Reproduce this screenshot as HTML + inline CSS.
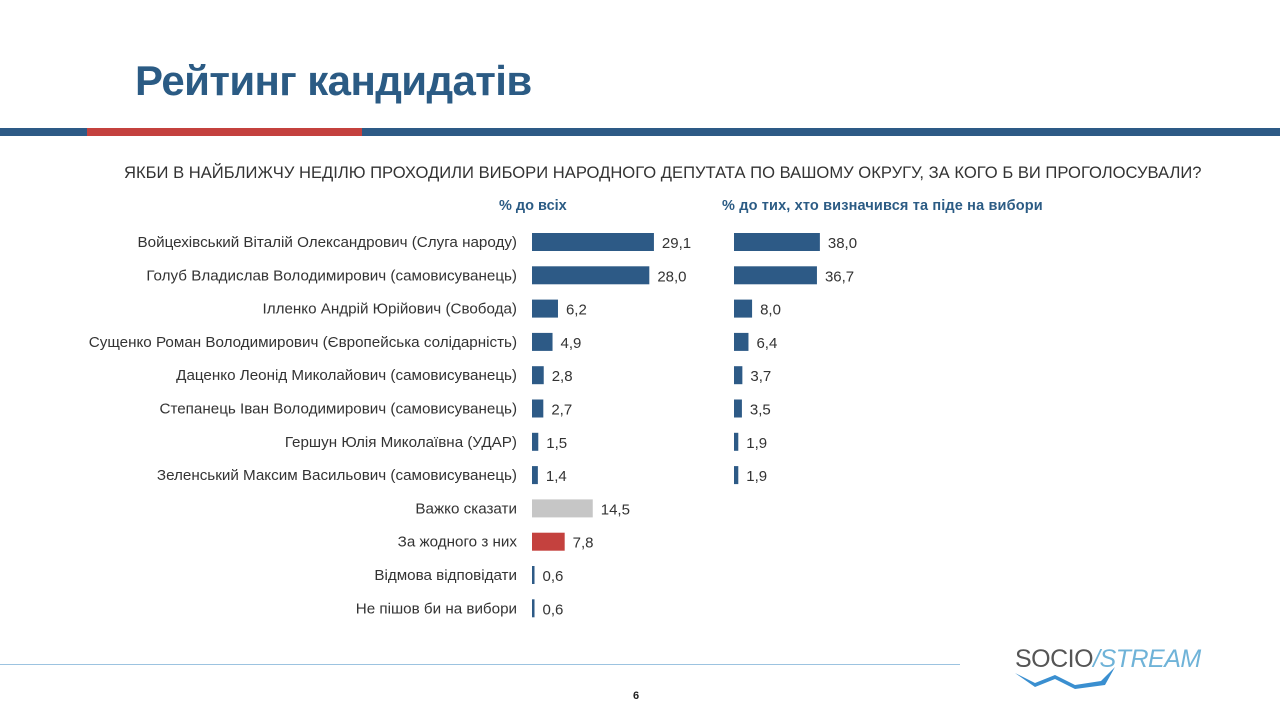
<!DOCTYPE html>
<html><head><meta charset="utf-8"><style>
body{margin:0;width:1280px;height:716px;background:#fff;position:relative;overflow:hidden;font-family:"Liberation Sans","DejaVu Sans",sans-serif}
.abs{position:absolute}
</style></head><body>
<div class="abs" style="left:135px;top:57px;font-size:42px;font-weight:bold;color:#2b5b84;letter-spacing:-0.6px">Рейтинг кандидатів</div>
<div class="abs" style="left:0;top:128px;width:1280px;height:8px;background:#2d5a86"></div>
<div class="abs" style="left:87px;top:128px;width:275px;height:8px;background:#c4413e"></div>
<div class="abs" style="left:124px;width:1080px;white-space:nowrap;top:163px;font-size:16.6px;color:#333">ЯКБИ В НАЙБЛИЖЧУ НЕДІЛЮ ПРОХОДИЛИ ВИБОРИ НАРОДНОГО ДЕПУТАТА ПО ВАШОМУ ОКРУГУ, ЗА КОГО Б ВИ ПРОГОЛОСУВАЛИ?</div>
<div class="abs" style="left:499px;top:198px;font-size:14.5px;font-weight:bold;color:#2b5b84">% до всіх</div>
<div class="abs" style="left:722px;top:198px;font-size:14.5px;font-weight:bold;color:#2b5b84;letter-spacing:0.15px">% до тих, хто визначився та піде на вибори</div>
<svg class="abs" id="chart" style="left:0;top:0" width="1280" height="716"></svg>
<div class="abs" style="left:0;top:664px;width:960px;height:1px;background:#9cc3e0"></div>
<div class="abs" style="left:1015px;top:645px;width:200px;height:45px">
<span style="font-size:25px;color:#555;letter-spacing:-0.5px">SOCIO</span><span style="font-size:25px;color:#6fb3d8;font-style:italic;letter-spacing:-0.5px">/STREAM</span>
<svg class="abs" style="left:0;top:22px" width="100" height="22"><polygon points="0,6 20,16 40,8 60,18 86,14 100,0 90,18 60,22 40,12 20,20" fill="#3a8fd0"/></svg>
</div>
<div class="abs" style="left:633px;top:690px;font-size:11px;font-weight:bold;color:#222">6</div>
<script>
const labels=["Войцехівський Віталій Олександрович (Слуга народу)","Голуб Владислав Володимирович (самовисуванець)","Ілленко Андрій Юрійович (Свобода)","Сущенко Роман Володимирович (Європейська солідарність)","Даценко Леонід Миколайович (самовисуванець)","Степанець Іван Володимирович (самовисуванець)","Гершун Юлія Миколаївна (УДАР)","Зеленський Максим Васильович (самовисуванець)","Важко сказати","За жодного з них","Відмова відповідати","Не пішов би на вибори"];
const allValues=[29.1,28.0,6.2,4.9,2.8,2.7,1.5,1.4,14.5,7.8,0.6,0.6];
const decidedValues=[38.0,36.7,8.0,6.4,3.7,3.5,1.9,1.9];
const colors=["#2d5a86","#2d5a86","#2d5a86","#2d5a86","#2d5a86","#2d5a86","#2d5a86","#2d5a86","#c6c6c6","#c4413e","#2d5a86","#2d5a86"];
const svg=document.getElementById('chart');const NS="http://www.w3.org/2000/svg";
const rowY=i=>242+i*33.3;
const xL=v=>532+v*4.19;
const xR=v=>734+v*2.26;
const fmt=v=>v.toFixed(1).replace('.',',');
function mk(tag,a){const e=document.createElementNS(NS,tag);for(const k in a)e.setAttribute(k,a[k]);svg.appendChild(e);return e;}
labels.forEach((l,i)=>{
 const t=mk('text',{x:517,y:rowY(i)+5,'text-anchor':'end','font-size':15.2,fill:'#333'});t.textContent=l;
 
 
 const w=Math.max(xL(allValues[i])-532,2);
 const r=mk('rect',{x:532,y:rowY(i)-9,width:w,height:18,fill:colors[i]});
 
 
 const v=mk('text',{x:532+w+8,y:rowY(i)+6,'font-size':15,fill:'#333'});v.textContent=fmt(allValues[i]);
 
 
});
decidedValues.forEach((d,i)=>{
 const w=Math.max(xR(d)-734,2);
 const r=mk('rect',{x:734,y:rowY(i)-9,width:w,height:18,fill:'#2d5a86'});
 
 
 const v=mk('text',{x:734+w+8,y:rowY(i)+6,'font-size':15,fill:'#333'});v.textContent=fmt(d);
 
 
});
</script>
</body></html>
